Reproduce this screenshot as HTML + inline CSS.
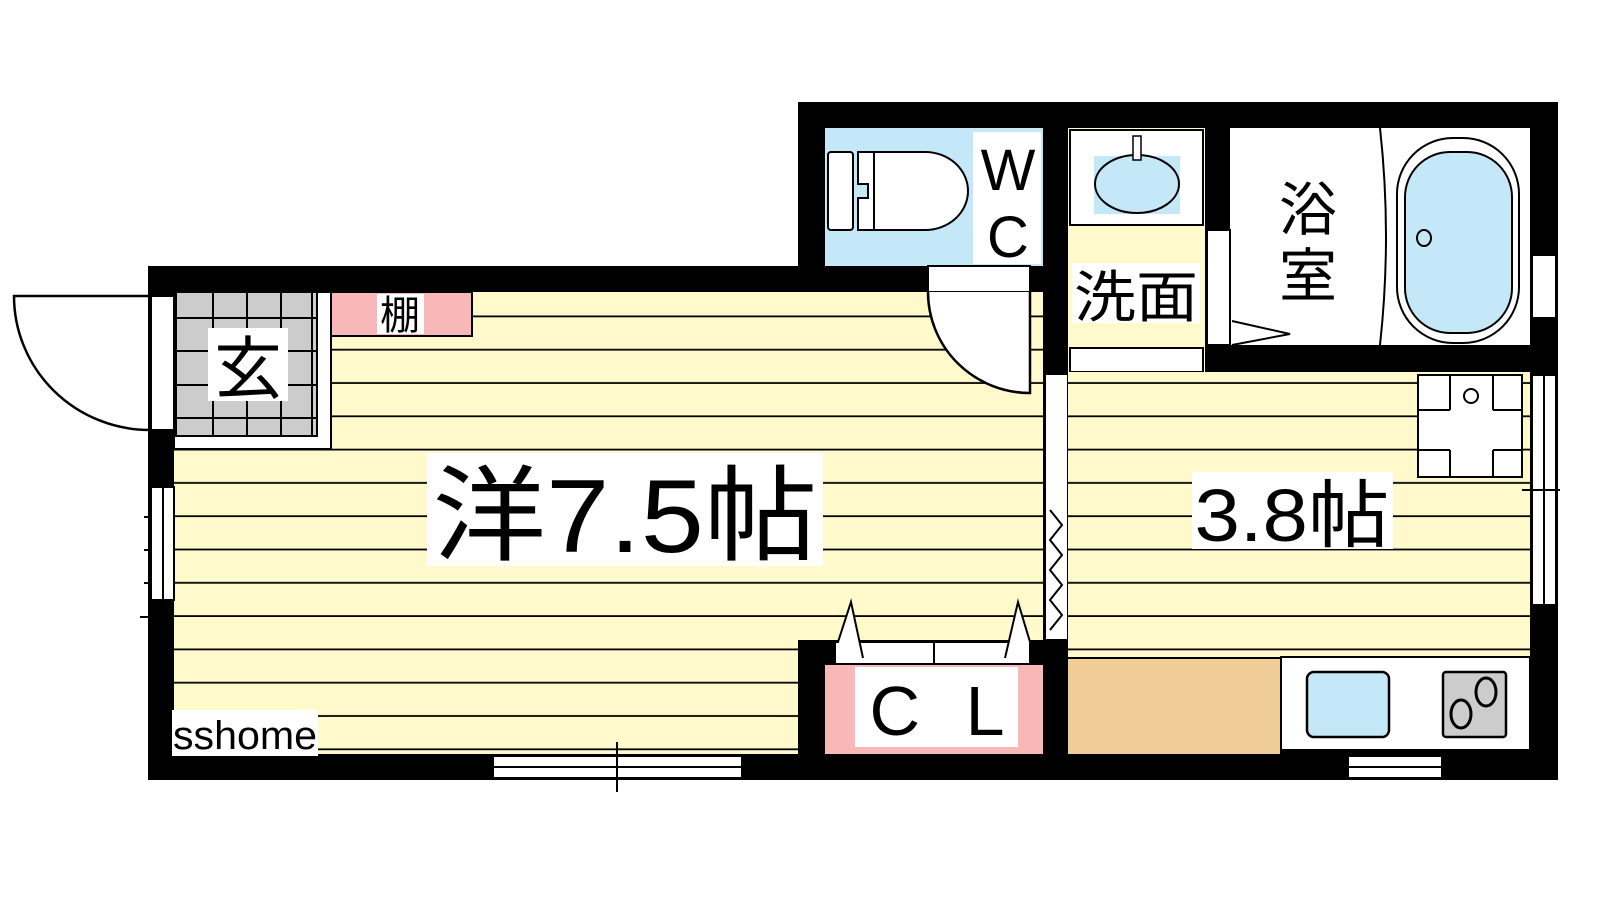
<!DOCTYPE html>
<html><head><meta charset="utf-8"><style>
html,body{margin:0;padding:0;background:#fff;}
svg{display:block}
text{font-family:"Liberation Sans","Noto Sans CJK JP",sans-serif;fill:#000}
</style></head><body>
<svg width="1600" height="900" viewBox="0 0 1600 900" xmlns="http://www.w3.org/2000/svg">
<defs>
<pattern id="fl" x="0" y="0" width="10" height="33.3" patternUnits="userSpaceOnUse" patternTransform="translate(0,284)">
<rect width="10" height="33.3" fill="#fff9cc"/>
<rect y="31.5" width="10" height="2.4" fill="#000"/>
</pattern>
</defs>
<!-- walls -->
<rect x="148" y="266" width="1410" height="514" fill="#000"/>
<rect x="798" y="102" width="760" height="200" fill="#000"/>
<!-- 7.5 room -->
<rect x="174" y="292" width="869" height="462" fill="url(#fl)"/>
<!-- genkan -->
<rect x="174" y="292" width="157" height="157" fill="#fff" stroke="#000" stroke-width="2"/>
<rect x="176" y="292" width="141" height="144" fill="#ccc" stroke="#000" stroke-width="2"/>
<g stroke="#000" stroke-width="2">
<line x1="213" y1="292" x2="213" y2="436"/><line x1="247" y1="292" x2="247" y2="436"/><line x1="281" y1="292" x2="281" y2="436"/><line x1="312" y1="292" x2="312" y2="436"/>
<line x1="176" y1="318" x2="317" y2="318"/><line x1="176" y1="351" x2="317" y2="351"/><line x1="176" y1="385" x2="317" y2="385"/><line x1="176" y1="418" x2="317" y2="418"/>
</g>
<rect x="208" y="328" width="80" height="73" fill="#fff"/>
<text x="248" y="393" font-size="68" text-anchor="middle">玄</text>
<!-- shelf -->
<rect x="331" y="292" width="141" height="44" fill="#f8b8b8" stroke="#000" stroke-width="2"/>
<rect x="377" y="294" width="47" height="40" fill="#fff"/>
<text x="400" y="329" font-size="40" text-anchor="middle">棚</text>
<!-- entrance door -->
<rect x="151" y="296" width="23" height="134" fill="#fff" stroke="#000" stroke-width="2"/>
<path d="M150 296 H14 A136 134 0 0 0 150 430" fill="none" stroke="#000" stroke-width="2.5"/>
<!-- left window -->
<rect x="151" y="487" width="23" height="113" fill="#fff" stroke="#000" stroke-width="2"/>
<line x1="163" y1="487" x2="163" y2="600" stroke="#000" stroke-width="2"/>
<g stroke="#000" stroke-width="2"><line x1="144" y1="517" x2="148" y2="517"/><line x1="144" y1="550" x2="148" y2="550"/><line x1="144" y1="583" x2="148" y2="583"/><line x1="140" y1="617" x2="148" y2="617"/></g>
<!-- bottom window -->
<rect x="493" y="756" width="249" height="22" fill="#fff" stroke="#000" stroke-width="2"/>
<line x1="493" y1="767" x2="742" y2="767" stroke="#000" stroke-width="2"/>
<line x1="617" y1="742" x2="617" y2="792" stroke="#000" stroke-width="2"/>
<!-- labels main -->
<rect x="427" y="453" width="396" height="113" fill="#fff"/>
<text x="625" y="552" font-size="104" text-anchor="middle" textLength="385" lengthAdjust="spacingAndGlyphs">洋7.5帖</text>
<rect x="172" y="710" width="146" height="46" fill="#fff"/>
<text x="245" y="749" font-size="40" text-anchor="middle" textLength="144" lengthAdjust="spacingAndGlyphs">sshome</text>
<!-- WC -->
<rect x="825" y="128" width="218" height="138" fill="#c4e8f8"/>
<rect x="973" y="132" width="68" height="132" fill="#fff"/>
<text x="1008" y="190" font-size="58" text-anchor="middle">W</text>
<text x="1008" y="257" font-size="58" text-anchor="middle">C</text>
<g fill="#fff" stroke="#000" stroke-width="2">
<rect x="828" y="152" width="25" height="78" rx="3"/>
<path d="M858 152 H925 A43 39 0 0 1 925 230 H858 V198 H868 V184 H858 Z"/>
</g>
<line x1="874" y1="152" x2="874" y2="230" stroke="#000" stroke-width="2"/>
<!-- door 7.5 -->
<rect x="928" y="266" width="102" height="26" fill="#fff" stroke="#000" stroke-width="2"/>
<path d="M928 292 A102 101 0 0 0 1030 393 V292" fill="#fff" stroke="#000" stroke-width="2.5"/>
<!-- 洗面 -->
<rect x="1068" y="128" width="137" height="244" fill="#fff9cc"/>
<rect x="1070" y="130" width="133" height="95" fill="#fff" stroke="#000" stroke-width="2"/>
<rect x="1094" y="156" width="86" height="58" fill="#c4e8f8"/>
<ellipse cx="1137" cy="184" rx="42" ry="29" fill="none" stroke="#000" stroke-width="2"/>
<rect x="1133" y="136" width="8" height="24" fill="#fff" stroke="#000" stroke-width="1.5"/>
<rect x="1070" y="348" width="133" height="24" fill="#fff" stroke="#000" stroke-width="2"/>
<rect x="1072" y="263" width="128" height="60" fill="#fff"/>
<text x="1136" y="317" font-size="56" text-anchor="middle" textLength="124" lengthAdjust="spacingAndGlyphs">洗面</text>
<!-- bath -->
<rect x="1230" y="128" width="300" height="217" fill="#fff"/>
<rect x="1207" y="230" width="23" height="115" fill="#fff" stroke="#000" stroke-width="2"/>
<path d="M1232 321 L1290 334 L1232 345" fill="none" stroke="#000" stroke-width="2"/>
<text x="1308" y="230" font-size="58" text-anchor="middle">浴</text>
<text x="1308" y="296" font-size="58" text-anchor="middle">室</text>
<path d="M1380 128 Q1392 236 1380 345" fill="none" stroke="#000" stroke-width="2"/>
<rect x="1397" y="138" width="122" height="205" rx="56" fill="#fff" stroke="#000" stroke-width="2"/>
<rect x="1405" y="152" width="107" height="181" rx="45" fill="#c4e8f8" stroke="#000" stroke-width="2"/>
<ellipse cx="1424" cy="238" rx="7" ry="8" fill="none" stroke="#000" stroke-width="2"/>
<rect x="1532" y="255" width="24" height="63" fill="#fff" stroke="#000" stroke-width="2"/>
<!-- partition -->
<rect x="1045" y="374" width="23" height="266" fill="#fff" stroke="#000" stroke-width="2"/>
<polyline points="1050,510 1062,525 1050,540 1062,555 1050,570 1062,585 1050,600 1062,615 1050,630" fill="none" stroke="#000" stroke-width="2"/>
<!-- 3.8 room -->
<rect x="1068" y="372" width="462" height="285" fill="url(#fl)"/>
<rect x="1418" y="375" width="104" height="102" fill="#fff" stroke="#000" stroke-width="2"/>
<g stroke="#000" stroke-width="2" fill="none">
<line x1="1450" y1="375" x2="1450" y2="410"/><line x1="1493" y1="375" x2="1493" y2="410"/>
<line x1="1418" y1="410" x2="1450" y2="410"/><line x1="1493" y1="410" x2="1522" y2="410"/>
<line x1="1450" y1="477" x2="1450" y2="450"/><line x1="1493" y1="477" x2="1493" y2="450"/>
<line x1="1418" y1="450" x2="1450" y2="450"/><line x1="1493" y1="450" x2="1522" y2="450"/>
<circle cx="1471" cy="396" r="7"/>
</g>
<rect x="1532" y="375" width="24" height="230" fill="#fff" stroke="#000" stroke-width="2"/>
<line x1="1544" y1="375" x2="1544" y2="605" stroke="#000" stroke-width="2"/>
<line x1="1522" y1="490" x2="1560" y2="490" stroke="#000" stroke-width="2"/>
<rect x="1192" y="472" width="201" height="77" fill="#fff"/>
<text x="1292" y="541" font-size="74" text-anchor="middle" textLength="195" lengthAdjust="spacingAndGlyphs">3.8帖</text>
<!-- kitchen -->
<rect x="1068" y="659" width="212" height="95" fill="#f0cc96"/>
<rect x="1281" y="657" width="249" height="93" fill="#fff" stroke="#000" stroke-width="2"/>
<rect x="1307" y="672" width="82" height="65" rx="7" fill="#c4e8f8" stroke="#000" stroke-width="2.5"/>
<rect x="1443" y="672" width="63" height="65" rx="3" fill="#ccc" stroke="#000" stroke-width="2.5"/>
<ellipse cx="1486" cy="692" rx="10" ry="14" fill="none" stroke="#000" stroke-width="3"/>
<ellipse cx="1461" cy="714" rx="10" ry="14" fill="none" stroke="#000" stroke-width="3"/>
<rect x="1348" y="756" width="94" height="22" fill="#fff" stroke="#000" stroke-width="2"/>
<line x1="1348" y1="767" x2="1442" y2="767" stroke="#000" stroke-width="2"/>
<!-- CL -->
<rect x="798" y="640" width="270" height="140" fill="#000"/>
<rect x="1043" y="640" width="25" height="14" fill="#000"/>
<rect x="825" y="665" width="218" height="89" fill="#f8b8b8"/>
<rect x="855" y="667" width="163" height="80" fill="#fff"/>
<text x="937" y="735" font-size="70" text-anchor="middle" textLength="135" lengthAdjust="spacing">CL</text>
<rect x="835" y="642" width="195" height="22" fill="#fff" stroke="#000" stroke-width="2"/>
<line x1="934" y1="642" x2="934" y2="664" stroke="#000" stroke-width="2"/>
<path d="M838 642 L851 602 L863 658 M1030 642 L1018 602 L1005 658" fill="#fff" stroke="#000" stroke-width="2"/>
</svg>
</body></html>
